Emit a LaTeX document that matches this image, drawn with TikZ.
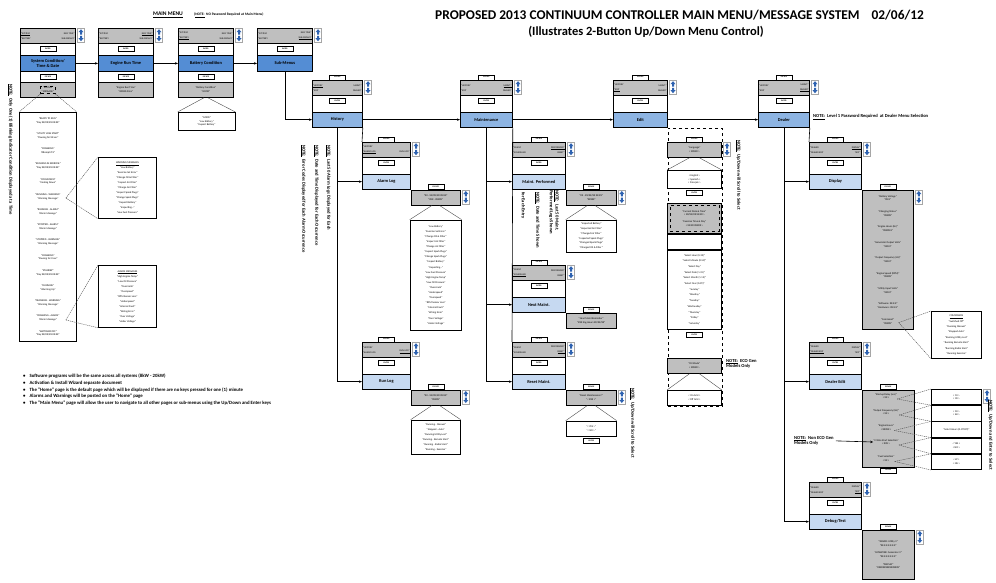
\documentclass[tikz,border=0pt]{standalone}
\usepackage{fontspec}
\setmainfont{Carlito}
\usetikzlibrary{arrows.meta,calc,positioning}

\definecolor{lcdgray}{RGB}{191,191,191}
\definecolor{mainblue}{RGB}{84,141,212}
\definecolor{subblue}{RGB}{141,180,226}
\definecolor{leafblue}{RGB}{198,217,241}
\definecolor{keyblue}{RGB}{46,98,176}

\newcommand{\tx}{\fontsize{2.6}{3.7}\selectfont}
\newcommand{\lx}{\fontsize{2.4}{5}\selectfont}

% up/down key pair, top left corner at #2
\newcommand{\updown}[2]{%
  \node[udbox, anchor=north west] (#1) at ([xshift=1.5pt]#2) {};
  \fill[keyblue] ($(#1)+(0,-6)$) -- ++(2.5,3) -- ++(-1.5,0) -- ++(0,2.3)
    -- ++(-2,0) -- ++(0,-2.3) -- ++(-1.5,0) -- cycle;
  \fill[keyblue] ($(#1)+(0,6)$) -- ++(2.5,-3) -- ++(-1.5,0) -- ++(0,-2.3)
    -- ++(-2,0) -- ++(0,2.3) -- ++(-1.5,0) -- cycle;}

% two-line display text of a header
\newcommand{\lcdtext}[5]{%
  \node[lcdtxt, anchor=west, align=left] (#1-l) at ([xshift=1pt]#1.west) {#2\\#3};
  \node[lcdtxt, anchor=east, align=right] (#1-r) at ([xshift=-1pt]#1.east) {#4\\#5};}

% main menu page: header, ENTER, title bar
\newcommand{\mainblock}[4]{%
  \node[pageframe, minimum width=55, minimum height=#4, anchor=north west] (#1) at (#2,28) {};
  \node[lcd, minimum width=55, anchor=north west] (#1-hd) at (#1.north west) {};
  \node[key, below=2.5pt of #1-hd] (#1-ent) {ENTER};
  \node[bar, fill=mainblue, minimum width=55, minimum height=16, anchor=north west] (#1-bar) at ([yshift=-27pt]#1.north west) {#3};
  \updown{#1-ud}{#1-hd.north east}}

% bottom display of a main menu page
\newcommand{\mainfoot}[2]{%
  \node[lcd, minimum width=55, anchor=south west, font=\tx, align=center] (#1-ft) at (#1.south west) {#2};
  \node[key, above=2.5pt of #1-ft] (#1-esc) {ESCAPE};}

% sub-menu page: ESCAPE, header, ENTER, title bar
\newcommand{\subblock}[6]{%
  \node[pageframe, minimum width=#4, minimum height=47, anchor=north west] (#1) at (#2,#3) {};
  \node[lcd, minimum width=#4, anchor=north west] (#1-hd) at (#1.north west) {};
  \node[key, above=0pt of #1-hd] (#1-esc) {ESCAPE};
  \node[key, below=2.5pt of #1-hd] (#1-ent) {ENTER};
  \node[bar, fill=#6, minimum width=#4, anchor=south west] (#1-bar) at (#1.south west) {#5};
  \updown{#1-ud}{#1-hd.north east}}

% grey value display hanging off a title bar
\newcommand{\valbox}[5]{%
  \node[lcd, minimum width=#3, minimum height=#4, anchor=north west, font=\tx, align=center] (#1) at (#2) {#5};
  \node[key, above=0pt of #1] (#1-esc) {ESCAPE};}

\begin{document}
\begin{tikzpicture}[x=1pt, y=-1pt,
  pageframe/.style={draw, fill=white, line width=0.8pt, inner sep=0pt},
  lcd/.style={draw, fill=lcdgray, line width=0.8pt, minimum height=15, inner sep=0.5pt},
  bar/.style={draw, line width=0.8pt, minimum height=15.5, inner sep=0pt, align=center,
    font=\fontsize{4.4}{5.2}\selectfont\bfseries},
  key/.style={draw, fill=white, line width=0.4pt, minimum width=16, minimum height=5,
    inner sep=0.3pt, font=\fontsize{2}{2.2}\selectfont\bfseries},
  udbox/.style={draw=black!35, fill=white, line width=0.4pt, minimum width=7,
    minimum height=14, inner sep=0pt},
  lcdtxt/.style={font=\lx, inner sep=0pt},
  listbox/.style={draw, fill=white, line width=0.8pt, inner sep=0.5pt, align=center, font=\tx},
  conn/.style={-{Stealth[length=3pt,width=2.4pt]}, line width=0.6pt},
  rail/.style={line width=0.6pt},
  fan/.style={line width=0.4pt, black!70},
  dfan/.style={line width=0.4pt, black!70, dash pattern=on 1.2pt off 0.8pt},
  note/.style={font=\fontsize{4.6}{5.6}\selectfont\bfseries, inner sep=0pt, align=left},
  ttl/.style={font=\fontsize{13.4}{14}\selectfont\bfseries, inner sep=0pt}]
\useasboundingbox (0,0) rectangle (996,582);
\fill[white] (0,0) rectangle (996,582);

% Titles
\node[ttl, anchor=west] (ttl1) at (435,15) {PROPOSED 2013 CONTINUUM CONTROLLER MAIN MENU/MESSAGE SYSTEM\hspace{12pt}02/06/12};
\node[ttl, font=\fontsize{12.5}{14}\selectfont\bfseries] (ttl2) at (646,32) {(Illustrates 2-Button Up/Down Menu Control)};
\node[font=\fontsize{5.6}{6}\selectfont\bfseries, inner sep=0pt] (mmlbl) at (168,15) {\underline{MAIN MENU}};
\node[font=\fontsize{3.6}{4}\selectfont\bfseries, inner sep=0pt, anchor=west] (mmnote) at (194,15) {(\underline{NOTE:}\ \ NO Password Required at Main Menu)};

% Main menu pages
\mainblock{sys}{20}{System Condition/\\Time \& Date}{69}
\mainblock{eng}{98}{Engine Run Time}{69}
\mainblock{bat}{178}{Battery Condition}{69}
\mainblock{sub}{257}{Sub-Menus}{43}
\lcdtext{sys-hd}{\underline{"SYSTEM}}{"BATTERY}{ENG TIME"}{SUB-MENUS"}
\lcdtext{eng-hd}{"SYSTEM}{"BATTERY}{\underline{ENG TIME"}}{SUB-MENUS"}
\lcdtext{bat-hd}{"SYSTEM}{\underline{"BATTERY}}{ENG TIME"}{SUB-MENUS"}
\lcdtext{sub-hd}{"SYSTEM}{"BATTERY}{ENG TIME"}{\underline{SUB-MENUS"}}
\mainfoot{sys}{}
\mainfoot{eng}{"Engine Run Time"\\"00000.0 Hrs"}
\mainfoot{bat}{"Battery Condition"\\"GOOD"}
\node[draw, dashed, line width=0.4pt, font=\tx, align=center, inner sep=1pt] (sys-st) at (sys-ft) {"STATUS"\\"MESSAGE"};

\draw[conn] (sys-bar) -- (eng-bar);
\draw[conn] (eng-bar) -- (bat-bar);
\draw[conn] (bat-bar) -- (sub-bar);

% Home page status messages
\node[listbox, minimum width=57, minimum height=229, anchor=north west] (sysl) at (19,112) {%
"READY TO RUN"\\"Day XX/XX/XX XX:XX"\\[7.8pt]
"UTILITY LOSS START"\\"Pausing for XX sec"\\[7.8pt]
"CRANKING"\\"Attempt \# X"\\[7.8pt]
"RUNNING IN EXERCISE"\\"Day XX/XX/XX XX:XX"\\[7.8pt]
"COOLDOWN"\\"Cooling Down"\\[7.8pt]
"RUNNING - WARNING"\\"Warning Message"\\[7.8pt]
"RUNNING - ALARM"\\"Alarm Message"\\[7.8pt]
"STOPPED - ALARM"\\"Alarm Message"\\[7.8pt]
"STOPPED - WARNING"\\"Warning Message"\\[7.8pt]
"CRANKING"\\"Pausing for X sec"\\[7.8pt]
"STANDBY"\\"Day XX/XX/XX XX:XX"\\[7.8pt]
"RUNNING"\\"Warming Up"\\[7.8pt]
"CRANKING - WARNING"\\"Warning Message"\\[7.8pt]
"CRANKING - ALARM"\\"Alarm Message"\\[7.8pt]
"SWITCHED OFF"\\"Day XX/XX/XX XX:XX"};
\draw[dfan] (sys-st.south west) -- (sysl.north west);
\draw[dfan] (sys-st.south east) -- (sysl.north east);
\node[note, rotate=-90, anchor=west] (n-sys) at (10,84) {\underline{NOTE:}\ \ Only One (1) Blinking Indicator Condition Displayed at a Time};

\node[listbox, minimum width=58, minimum height=61, anchor=north west, font=\fontsize{2.6}{5}\selectfont] (warnl) at (98,157) {%
\underline{WARNING MESSAGES}\\"Low Battery"\\"Exercise Set Error"\\"Change Oil \& Filter"\\"Inspect Air Filter"\\"Change Air Filter"\\"Inspect Spark Plugs"\\"Change Spark Plugs"\\"Inspect Battery"\\"Inspecting..."\\"Low Fuel Pressure"};
\node[listbox, minimum width=58, minimum height=62, anchor=north west, font=\fontsize{2.6}{5}\selectfont] (alarml) at (98,265) {%
\underline{ALARM MESSAGES}\\"High Engine Temp"\\"Low Oil Pressure"\\"Overcrank"\\"Overspeed"\\"RPM Sensor Loss"\\"Underspeed"\\"Internal Fault"\\"Wiring Error"\\"Over Voltage"\\"Under Voltage"};
\coordinate (runwarn) at ($(sysl.north)+(18,86)$);
\coordinate (crankalm) at ($(sysl.north)+(18,208)$);
\draw[dfan] (runwarn) -- (warnl.north west);
\draw[dfan] (runwarn) -- (warnl.south west);
\draw[dfan] (crankalm) -- (alarml.north west);
\draw[dfan] (crankalm) -- (alarml.south west);

% Battery condition values
\node[listbox, minimum width=57, minimum height=18, anchor=north] (batl) at (206.5,112) {"GOOD"\\"Low Battery"\\"Inspect Battery"};
\draw[fan] ([xshift=-2pt]bat-ft.south) -- (batl.north west);
\draw[fan] ([xshift=2pt]bat-ft.south) -- (batl.north east);

% Sub-menus
\subblock{hist}{312}{80}{50}{History}{subblue}
\subblock{mnt}{460}{80}{52}{Maintenance}{subblue}
\subblock{edit}{613}{80}{54}{Edit}{subblue}
\subblock{dlr}{758}{80}{51}{Dealer}{subblue}
\lcdtext{hist-hd}{\underline{"HISTORY}}{"EDIT}{MAINT."}{DEALER"}
\lcdtext{mnt-hd}{"HISTORY}{"EDIT}{\underline{MAINT."}}{DEALER"}
\lcdtext{edit-hd}{"HISTORY}{\underline{"EDIT}}{MAINT."}{DEALER"}
\lcdtext{dlr-hd}{"HISTORY}{"EDIT}{MAINT."}{\underline{DEALER"}}
\draw[conn] (sub-bar.south) |- (hist-bar.west);
\draw[conn] (hist-bar) -- (mnt-bar);
\draw[conn] (mnt-bar) -- (edit-bar);
\draw[conn] (edit-bar) -- (dlr-bar);
\node[note, anchor=west] (n-dlr) at (813,117) {\underline{NOTE:}\ \ Level 1 Password Required\ \ at Dealer Menu Selection};

% History
\subblock{alog}{362}{142}{48}{Alarm Log}{leafblue}
\subblock{rlog}{362}{342}{48}{Run Log}{leafblue}
\lcdtext{alog-hd}{"HISTORY}{\underline{"ALARM LOG}}{}{RUN LOG"}
\lcdtext{rlog-hd}{"HISTORY}{"ALARM LOG}{}{\underline{RUN LOG"}}
\draw[rail] (hist-bar.south east) -- (alog.north west);
\draw[conn] (hist-bar.south) |- (alog-bar.west);
\draw[conn] (hist-bar.south) |- (rlog-bar.west);
\valbox{alogv}{alog-bar.south east}{49}{15}{"XX - XX/XX/XX XX:XX"\\"XXX - XXXXX"}
\updown{alogv-ud}{alogv.north east}
\node[listbox, minimum width=51, minimum height=110, below=14pt of alogv, font=\fontsize{2.6}{5.1}\selectfont] (alogl) {%
"Low Battery"\\"Exercise Set Error"\\"Change Oil \& Filter"\\"Inspect Air Filter"\\"Change Air Filter"\\"Inspect Spark Plugs"\\"Change Spark Plugs"\\"Inspect Battery"\\"Inspecting..."\\"Low Fuel Pressure"\\"High Engine Temp"\\"Low Oil Pressure"\\"Overcrank"\\"Underspeed"\\"Overspeed"\\"RPM Sensor Loss"\\"Internal Fault"\\"Wiring Error"\\"Over Voltage"\\"Under Voltage"};
\draw[fan] ([xshift=-4pt]alogv.south) -- (alogl.north west);
\draw[fan] ([xshift=4pt]alogv.south) -- (alogl.north east);
\valbox{rlogv}{rlog-bar.south east}{49}{15}{"XX - XX/XX/XX XX:XX"\\"XXXXX"}
\updown{rlogv-ud}{rlogv.north east}
\node[listbox, minimum width=49, minimum height=34, below=14pt of rlogv, font=\fontsize{2.6}{5}\selectfont] (rlogl) {%
"Running - Manual"\\"Stopped - Auto"\\"Running Utility Lost"\\"Running - Remote Start"\\"Running - Radio Start"\\"Running - Exercise"};
\draw[fan] ([xshift=-4pt]rlogv.south) -- (rlogl.north west);
\draw[fan] ([xshift=4pt]rlogv.south) -- (rlogl.north east);
\node[note, rotate=-90, anchor=west] (n-h1) at (303,145) {\underline{NOTE:}\ \ Error Codes Displayed for Each Alarm Occurrence};
\node[note, rotate=-90, anchor=west] (n-h2) at (316,145) {\underline{NOTE:}\ \ Date and Time Displayed for Each Occurrence};
\node[note, rotate=-90, anchor=west] (n-h3) at (328,145) {\underline{NOTE:}\ \ Last 50 Alarm Logs Displayed for Each};

% Maintenance
\subblock{mperf}{512}{142}{53}{Maint. Performed}{leafblue}
\subblock{mnext}{512}{265}{53}{Next Maint.}{leafblue}
\subblock{mrst}{512}{342}{53}{Reset Maint.}{leafblue}
\lcdtext{mperf-hd}{"MAINT.}{"SCHEDULED}{\underline{PERFORMED"}}{RESET"}
\lcdtext{mnext-hd}{"MAINT.}{\underline{"SCHEDULED}}{PERFORMED"}{RESET"}
\lcdtext{mrst-hd}{"MAINT.}{"SCHEDULED}{PERFORMED"}{\underline{RESET"}}
\draw[rail] (mnt-bar.south east) -- (mrst.north west);
\draw[conn] (mnt-bar.south) |- (mperf-bar.west);
\draw[conn] (mnt-bar.south) |- (mnext-bar.west);
\draw[conn] (mnt-bar.south) |- (mrst-bar.west);
\valbox{mperfv}{mperf-bar.south east}{50}{15}{"XX - XX/XX/XX XX:XX"\\"XXXXX"}
\updown{mperfv-ud}{mperfv.north east}
\node[listbox, minimum width=50, minimum height=32, below=14pt of mperfv, font=\fontsize{2.6}{4.8}\selectfont] (mperfl) {%
"Inspected Battery"\\"Inspected Air Filter"\\"Changed Air Filter"\\"Inspected Spark Plugs"\\"Changed Spark Plugs"\\"Changed Oil \& Filter"};
\draw[fan] ([xshift=-4pt]mperfv.south) -- (mperfl.north west);
\draw[fan] ([xshift=4pt]mperfv.south) -- (mperfl.north east);
\valbox{mnextv}{mnext-bar.south east}{50}{15}{"Next Maint Reminder"\\"XXX Eng Hours XX/XX/XX"}
\valbox{mrstv}{mrst-bar.south east}{50}{15}{"Reset Maintenance?"\\"< XXX >"}
\updown{mrstv-ud}{mrstv.north east}
\node[listbox, minimum width=50, minimum height=15, below=15pt of mrstv] (mrstl) {"< YES >"\\"< NO >"};
\node[key, below=1.5pt of mrstl] (mrstl-ent) {ENTER};
\draw[fan] ([xshift=-4pt]mrstv.south) -- (mrstl.north west);
\draw[fan] ([xshift=4pt]mrstv.south) -- (mrstl.north east);
\node[note, rotate=-90, anchor=west] (n-m1) at (554,190) {\underline{NOTE:}\ \ Last 50 Maint.\\Performed Logs Shown};
\node[note, rotate=-90, anchor=west] (n-m2) at (537,192) {\underline{NOTE:}\ \ Date and Time Shown};
\node[note, rotate=-90, anchor=west] (n-m3) at (523,192) {for Each Entry};
\node[note, rotate=-90, anchor=west] (n-r) at (632,388) {\underline{NOTE:}\ \ Up/Down will Scroll to Select};

% Edit
\node[draw, dashed, line width=0.5pt, minimum width=54, minimum height=278, inner sep=0pt, anchor=north west] (edcol) at (edit-bar.south east) {};
\node[lcd, minimum width=54, anchor=north west, font=\tx, align=center] (lang) at (667,142) {"Language"\\< XXXXX >};
\node[key, above=0pt of lang] (lang-esc) {ESCAPE};
\updown{lang-ud}{lang.north east}
\node[listbox, minimum width=54, minimum height=18, anchor=north west] (langl) at (667,170) {< English >\\< Spanish >\\< Français >};
\draw[fan] ([xshift=-5pt]lang.south) -- (langl.north west);
\draw[fan] ([xshift=5pt]lang.south) -- (langl.north east);
\node[key, below=1.5pt of langl] (lang-ent) {ENTER};
\node[lcd, minimum width=54, minimum height=30, anchor=north west, font=\tx, align=center] (dtm) at (667,203) {"Current Date \& Time"\\< XX/XX/XX XX:XX >\\[3pt]"Exercise Time \& Day"\\< XX:XX XXXXX >};
\node[draw, dashed, line width=0.3pt, minimum width=49, minimum height=26, inner sep=0pt] (dtm-in) at (dtm) {};
\node[listbox, minimum width=54, minimum height=15, anchor=north west] (dtmb) at (dtm.south west) {};
\node[listbox, minimum width=54, minimum height=79, anchor=north west, font=\fontsize{2.6}{5.7}\selectfont] (dtml) at (dtmb.south west) {%
"Select Hour (0-23)"\\"Select Minute (0-59)"\\"Select Day"\\"Select Date (1-31)"\\"Select Month (1-12)"\\"Select Year (0-99)"\\"Sunday"\\"Monday"\\"Tuesday"\\"Wednesday"\\"Thursday"\\"Friday"\\"Saturday"};
\node[key, below=3pt of dtml] (dtml-ent) {ENTER};
\node[lcd, minimum width=54, anchor=north west, font=\tx, align=center] (oil) at (667,358) {"Oil Mode"\\< XXXXX >};
\node[listbox, minimum width=54, minimum height=15, anchor=north west] (oill) at (667,390) {< On Grid >\\< Off Grid >};
\draw[fan] ([xshift=-5pt]oil.south) -- (oill.north west);
\draw[fan] ([xshift=5pt]oil.south) -- (oill.north east);
\node[note, anchor=north west] (n-eco) at (726,359) {\underline{NOTE:}\ \ ECO Gen\\Models Only};
\node[note, rotate=-90, anchor=west] (n-e) at (738,140) {\underline{NOTE:}\ \ Up/Down will Scroll to Select};

% Dealer
\subblock{disp}{809}{142}{52}{Display}{leafblue}
\subblock{dedit}{809}{342}{52}{Dealer Edit}{leafblue}
\subblock{dbg}{809}{482}{52}{Debug/Test}{leafblue}
\lcdtext{disp-hd}{"DEALER}{"DEALER EDIT}{\underline{DISPLAY"}}{TEST"}
\lcdtext{dedit-hd}{"DEALER}{\underline{"DEALER EDIT}}{DISPLAY"}{TEST"}
\lcdtext{dbg-hd}{"DEALER}{"DEALER EDIT}{DISPLAY"}{\underline{TEST"}}
\draw[rail] (dlr-bar.south east) -- (disp.north west);
\draw[conn] (dlr-bar.south) |- (disp-bar.west);
\draw[conn] (dlr-bar.south) |- (dedit-bar.west);
\draw[conn] (dlr-bar.south) |- (dbg-bar.west);

\valbox{dispv}{disp-bar.south east}{51}{139}{%
"Battery Voltage"\\"XX.X"\\[8pt]
"Charging Status"\\"XXXXX"\\[8pt]
"Engine Hours (Hr)"\\"XXXXX.X"\\[8pt]
"Generator Output Volts"\\"XXX.X"\\[8pt]
"Output Frequency (Hz)"\\"XXX.X"\\[8pt]
"Engine Speed (RPM)"\\"XXXXX"\\[8pt]
"Utility Input Volts"\\"XXX.X"\\[8pt]
"Software: XX.X.X"\\"Hardware: XX.X.X"\\[8pt]
"Command"\\"XXXXX"}
\updown{dispv-ud}{dispv.north east}
\node[listbox, minimum width=50, minimum height=47, anchor=north west, font=\fontsize{2.6}{5.4}\selectfont] (cmdl) at (931,311) {%
\underline{COMMANDS}\\"Switched Off"\\"Running Manual"\\"Stopped Auto"\\"Running Utility Lost"\\"Running Remote Start"\\"Running Radio Start"\\"Running Exercise"};
\coordinate (dcmd) at ($(dispv.south)+(11,-7)$);
\draw[dfan] (dcmd) -- (cmdl.north west);
\draw[dfan] (dcmd) -- (cmdl.south west);

\valbox{deditv}{dedit-bar.south east}{52}{77}{}
\node[key, below=0pt of deditv] (deditv-ent) {ENTER};
\node[font=\tx, align=center, inner sep=0pt] (de1) at (886,396) {"Startup Delay (sec)"\\< XX >};
\node[font=\tx, align=center, inner sep=0pt] (de2) at (886,412) {"Output Frequency (Hz)"\\< XX >};
\node[font=\tx, align=center, inner sep=0pt] (de3) at (886,427.5) {"Engine Hours"\\< XXXXX >};
\node[font=\tx, align=center, inner sep=0pt] (de4) at (886,442) {"2-Wire Start Selection"\\< XXX >};
\node[font=\tx, align=center, inner sep=0pt] (de5) at (886,458.5) {"Fuel Selection"\\< XX >};
\node[listbox, minimum width=50, minimum height=15.4, anchor=north west] (opt1) at (931,389) {< 10 >\\< 30 >};
\node[listbox, minimum width=50, minimum height=15.4, anchor=north] (opt2) at (opt1.south) {< 50 >\\< 60 >};
\node[listbox, minimum width=50, minimum height=15.4, anchor=north] (opt3) at (opt2.south) {"Select Hours (0-99999)"};
\node[listbox, minimum width=50, minimum height=15.4, anchor=north] (opt4) at (opt3.south) {< YES >\\< NO >};
\node[listbox, minimum width=50, minimum height=15.4, anchor=north] (opt5) at (opt4.south) {< LP >\\< NG >};
\updown{opt1-ud}{opt1.north east}
\foreach \i in {1,...,5} {
  \draw[dfan] (de\i.south east) -- (opt\i.north west);
  \draw[dfan] (de\i.south east) -- (opt\i.south west);
}
\node[note, anchor=north west] (n-noneco) at (794,436) {\underline{NOTE:}\ \ Non ECO Gen\\Models Only};
\draw[conn] ([xshift=2pt]n-noneco.east) -- (de4.west);
\node[note, rotate=-90, anchor=west] (n-d) at (990,400) {\underline{NOTE:}\ \ Up/Down and Enter to Select};

\valbox{dbgv}{dbg-bar.south east}{52}{49}{%
"SWVER: Utility V"\\"XX.X.X.X.X.X.X"\\[4pt]"ALTSWVER: Generator V"\\"XX.X.X.X.X.X.X"\\[4pt]"DISPLAY"\\"XXXXXXXXXXXXXXXX"}
\updown{dbgv-ud}{dbgv.north east}

% Footnotes
\node[anchor=north west, align=left, inner sep=0pt, font=\fontsize{4.8}{6.7}\selectfont\bfseries] (fnotes) at (23,374) {%
\textbullet\hspace{4pt}Software programs will be the same across all systems (8kW - 20kW)\\
\textbullet\hspace{4pt}Activation \& Install Wizard separate document\\
\textbullet\hspace{4pt}The "Home" page is the default page which will be displayed if there are no keys pressed for one (1) minute\\
\textbullet\hspace{4pt}Alarms and Warnings will be posted on the "Home" page\\
\textbullet\hspace{4pt}The "Main Menu" page will allow the user to navigate to all other pages or sub-menus using the Up/Down and Enter keys};
\end{tikzpicture}
\end{document}
